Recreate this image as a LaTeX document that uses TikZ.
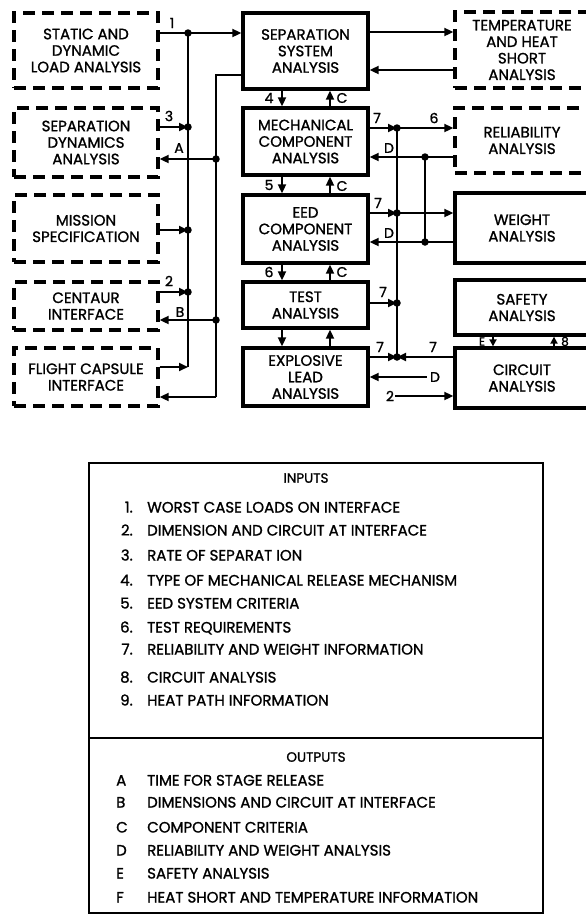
\documentclass[tikz,border=0pt]{standalone}
\usepackage{fontspec}
\setmainfont{Poppins}[FakeBold=1.2]
\usetikzlibrary{arrows.meta}
\pgfdeclarelayer{fg}
\pgfsetlayers{main,fg}
\newcommand{\boxfnt}{\fontsize{15}{16.5}\selectfont}
\newcommand{\lblfnt}{\fontsize{14}{15}\selectfont}
\newcommand{\smlfnt}{\fontsize{12}{13}\selectfont}
\newcommand{\legfnt}{\fontsize{15}{17}\selectfont}
\newcommand{\hdfnt}{\fontsize{13.5}{15}\selectfont}
\begin{document}
\begin{tikzpicture}[x=1pt,y=-1pt,
  sbox/.style={draw, line width=3.3pt, align=center, font=\boxfnt, inner sep=0pt},
  dbox/.style={sbox, dash pattern=on 12pt off 7pt},
  conn/.style={line width=1.8pt},
  arr/.style={conn, -{Triangle[length=9pt,width=8pt]}},
  dotc/.style={circle, fill, inner sep=0pt, minimum size=7.5pt},
  lbl/.style={font=\lblfnt, inner sep=0pt},
  leg/.style={font=\legfnt, inner sep=0pt, anchor=base west}]
\useasboundingbox (0,0) rectangle (586,922);
\fill[white] (0,0) rectangle (586,922);
\clip (0,0) rectangle (586,922);

% ---------- boxes ----------
\node[dbox, minimum width=144pt, minimum height=75pt] (lda) at (86,50.5) {STATIC AND\\DYNAMIC\\LOAD ANALYSIS};
\node[dbox, minimum width=144pt, minimum height=69pt] (sda) at (86,142.5) {SEPARATION\\DYNAMICS\\ANALYSIS};
\node[dbox, minimum width=144pt, minimum height=67pt] (mis) at (86,228.5) {MISSION\\SPECIFICATION};
\node[dbox, minimum width=144pt, minimum height=48pt] (cen) at (86,306) {CENTAUR\\INTERFACE};
\node[dbox, minimum width=144pt, minimum height=58pt] (fci) at (86,377) {FLIGHT CAPSULE\\INTERFACE};

\node[sbox, minimum width=125pt, minimum height=76pt] (ssa) at (305.5,51) {SEPARATION\\SYSTEM\\ANALYSIS};
\node[sbox, minimum width=125pt, minimum height=67pt] (mca) at (305.5,141.5) {MECHANICAL\\COMPONENT\\ANALYSIS};
\node[sbox, minimum width=125pt, minimum height=68pt] (eed) at (305.5,229) {EED\\COMPONENT\\ANALYSIS};
\node[sbox, minimum width=125pt, minimum height=46pt] (tst) at (305.5,305) {TEST\\ANALYSIS};
\node[sbox, minimum width=125pt, minimum height=58pt] (ela) at (305.5,377) {EXPLOSIVE\\LEAD\\ANALYSIS};

\node[dbox, minimum width=134pt, minimum height=76pt] (tha) at (522,50) {TEMPERATURE\\AND HEAT\\SHORT\\ANALYSIS};
\node[dbox, minimum width=134pt, minimum height=65pt] (rel) at (522,140.5) {RELIABILITY\\ANALYSIS};
\node[sbox, minimum width=134pt, minimum height=70pt] (wgt) at (522,228) {WEIGHT\\ANALYSIS};
\node[sbox, minimum width=134pt, minimum height=55pt] (saf) at (522,307.5) {SAFETY\\ANALYSIS};
\node[sbox, minimum width=134pt, minimum height=60pt] (cir) at (522,378) {CIRCUIT\\ANALYSIS};

% ---------- junction dots ----------
\begin{pgfonlayer}{fg}
\node[dotc] (j1) at (188,33) {};
\node[dotc] (j3) at (188,127) {};
\node[dotc] (jA) at (216,159) {};
\node[dotc] (jM) at (188,230) {};
\node[dotc] (j2) at (188,292) {};
\node[dotc] (jB) at (216,320) {};
\node[dotc] (jm7) at (397,128) {};
\node[dotc] (jmD) at (425,157) {};
\node[dotc] (je7) at (397,213) {};
\node[dotc] (jeD) at (425,242) {};
\node[dotc] (jt7) at (397,303) {};
\node[dotc] (jx7) at (397,357) {};
\end{pgfonlayer}
\coordinate (jF) at (188,367);
\coordinate (oTop) at (216,75);
\coordinate (oBot) at (216,397);
\coordinate (xL) at (282,0);
\coordinate (xR) at (330,0);
\coordinate (xE) at (493,0);
\coordinate (x8) at (554,0);
\coordinate (yT1) at (0,32);
\coordinate (yT2) at (0,70);

% ---------- left connectors ----------
\draw[arr] (lda.east |- j1) -- (ssa.west |- j1);
\draw[conn] (j1.center) -- (jF);
\draw[conn] (ssa.west |- oTop) -- (oTop) -- (oBot);
\draw[arr] (sda.east |- j3) -- (j3.center);
\draw[arr] (jA.center) -- (sda.east |- jA);
\draw[arr] (mis.east |- jM) -- (jM.center);
\draw[arr] (cen.east |- j2) -- (j2.center);
\draw[arr] (jB.center) -- (cen.east |- jB);
\draw[arr] (fci.east |- jF) -- (jF);
\draw[arr] (oBot) -- (fci.east |- oBot);

% ---------- middle column ----------
\draw[arr] (xL |- ssa.south) -- (xL |- mca.north);
\draw[arr] (xR |- mca.north) -- (xR |- ssa.south);
\draw[arr] (xL |- mca.south) -- (xL |- eed.north);
\draw[arr] (xR |- eed.north) -- (xR |- mca.south);
\draw[arr] (xL |- eed.south) -- (xL |- tst.north);
\draw[arr] (xR |- tst.north) -- (xR |- eed.south);
\draw[arr] (xL |- tst.south) -- (xL |- ela.north);
\draw[arr] (xR |- ela.north) -- (xR |- tst.south);

% ---------- right connectors ----------
\draw[arr] (ssa.east |- yT1) -- (tha.west |- yT1);
\draw[arr] (tha.west |- yT2) -- (ssa.east |- yT2);
\draw[arr] (mca.east |- jm7) -- (jm7.center);
\draw[arr] (jm7.center) -- (rel.west |- jm7);
\draw[arr] (rel.west |- jmD) -- (mca.east |- jmD);
\draw[arr] (eed.east |- je7) -- (je7.center);
\draw[arr] (je7.center) -- (wgt.west |- je7);
\draw[arr] (wgt.west |- jeD) -- (eed.east |- jeD);
\draw[conn] (jmD.center) -- (jeD.center);
\draw[conn] (jm7.center) -- (jx7.center);
\draw[arr] (tst.east |- jt7) -- (jt7.center);
\draw[arr] (ela.east |- jx7) -- (jx7.center);
\draw[arr] (cir.west |- jx7) -- (jx7.center);
\node[lbl] (lD5) at (435,377) {D};
\draw[arr, shorten <=3pt] (lD5.west) -- (ela.east |- lD5);
\node[lbl] (l2c) at (390,396) {2};
\draw[arr, shorten <=1pt] (l2c.east) -- (cir.west |- l2c);
\draw[arr, -{Triangle[length=7pt,width=7pt]}] (xE |- saf.south) -- (xE |- cir.north);
\draw[arr, -{Triangle[length=7pt,width=7pt]}] (x8 |- cir.north) -- (x8 |- saf.south);

% ---------- labels ----------
\node[lbl] (l1) at (172,23) {1};
\node[lbl] (l3) at (169,116) {3};
\node[lbl] (lA) at (179,148) {A};
\node[lbl] (l2) at (169,281) {2};
\node[lbl] (lB) at (180,312) {B};
\node[lbl] (l4) at (269,98) {4};
\node[lbl] (lC1) at (342,98) {C};
\node[lbl] (l5) at (269,185) {5};
\node[lbl] (lC2) at (342,186) {C};
\node[lbl] (l6) at (269,272) {6};
\node[lbl] (lC3) at (342,272) {C};
\node[lbl] (l7a) at (377,118) {7};
\node[lbl] (l6b) at (434,118) {6};
\node[lbl] (lDa) at (389,148) {D};
\node[lbl] (l7b) at (378,203) {7};
\node[lbl] (lDb) at (389,233) {D};
\node[lbl] (l7c) at (383,292) {7};
\node[lbl] (l7d) at (380,347) {7};
\node[lbl] (l7e) at (433,347) {7};
\node[lbl, font=\smlfnt] (lE) at (482,341.5) {E};
\node[lbl, font=\smlfnt] (l8) at (565,341.5) {8};

% ---------- legend ----------
\draw[line width=1.8pt] (89,463) rectangle (543,913);
\draw[line width=1.8pt] (89,738) -- (543,738);
\node[font=\hdfnt, inner sep=0pt] (hin) at (306,478) {INPUTS};
\node[font=\hdfnt, inner sep=0pt] (hout) at (316,757) {OUTPUTS};
\foreach \n/\t/\y in {1/WORST CASE LOADS ON INTERFACE/507,
  2/DIMENSION AND CIRCUIT AT INTERFACE/530,
  3/RATE OF SEPARAT ION/555,
  4/TYPE OF MECHANICAL RELEASE MECHANISM/580,
  5/EED SYSTEM CRITERIA/603,
  6/TEST REQUIREMENTS/627,
  7/RELIABILITY AND WEIGHT INFORMATION/649,
  8/CIRCUIT ANALYSIS/677,
  9/HEAT PATH INFORMATION/700}{
  \node[leg, anchor=base east] (in\n) at (133,\y+5.5) {\n.};
  \node[leg] (it\n) at (147,\y+5.5) {\t};
}
\foreach \n/\t/\y in {A/TIME FOR STAGE RELEASE/780,
  B/DIMENSIONS AND CIRCUIT AT INTERFACE/802,
  C/COMPONENT CRITERIA/827,
  D/RELIABILITY AND WEIGHT ANALYSIS/850,
  E/SAFETY ANALYSIS/873,
  F/HEAT SHORT AND TEMPERATURE INFORMATION/897}{
  \node[leg] (on\n) at (116,\y+5.5) {\n};
  \node[leg] (ot\n) at (147,\y+5.5) {\t};
}
\end{tikzpicture}
\end{document}
